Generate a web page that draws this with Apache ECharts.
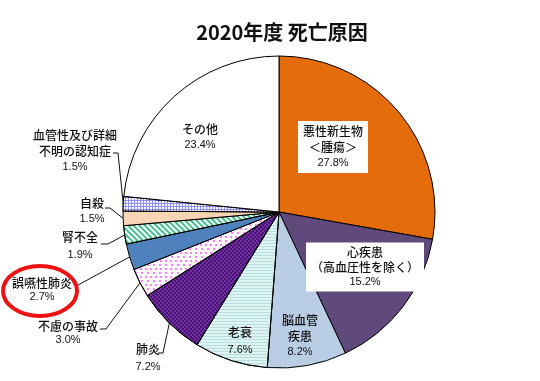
<!DOCTYPE html>
<html><head><meta charset="utf-8">
<script src="https://cdn.jsdelivr.net/npm/echarts@6/dist/echarts.min.js"></script>
<style>html,body{margin:0;padding:0;background:#fff}#c{width:540px;height:381px}</style>
</head><body><div id="c"></div>
<script>
const chartTitle = '2020年度 死亡原因';
const categories = ['悪性新生物\n＜腫瘍＞', '心疾患\n（高血圧性を除く）', '脳血管\n疾患', '老衰', '肺炎', '不慮の事故', '誤嚥性肺炎', '腎不全', '自殺', '血管性及び詳細\n不明の認知症', 'その他'];
const percents = [27.8, 15.2, 8.2, 7.6, 7.2, 3.0, 2.7, 1.9, 1.5, 1.5, 23.4];

// styles (not data)
const colors = ['#E46C0A', '#604A7B', '#B9CDE5', '#E0F4F4', '#7030A0', '#FFFFFF', '#4F81BD', '#FFFFFF', '#FCD5B5', '#8F8FFF', '#FFFFFF'];
const decals = {
  3: {symbol: 'rect', symbolSize: 1, color: '#B4DEDE', dashArrayX: [1, 0], dashArrayY: [1, 2]},
  4: {symbol: 'rect', symbolSize: 1, color: '#4A1275', dashArrayX: [[2, 2], [0, 2, 2, 0]], dashArrayY: [2, 0]},
  5: {symbol: 'rect', symbolSize: 1, color: '#FF80FF', dashArrayX: [[2, 3], [0, 2.5, 2, 0.5]], dashArrayY: [2, 1.5]},
  7: {symbol: 'rect', symbolSize: 1, color: '#45C08C', dashArrayX: [1, 0], dashArrayY: [1.5, 1.5], rotation: Math.PI / 4},
  9: {symbol: 'rect', symbolSize: 1, color: '#FFFFFF', dashArrayX: [2, 1], dashArrayY: [2, 1]}
};
const insideIdx = [0, 1, 2, 3, 10];
const boxedIdx = [0, 1];
const lineHeights = [16, 15, 16, 17, 17, 13, 14, 17, 16, 16, 15];
const anchors = [[333, 147], [365, 267], [300, 336], [240, 341], [148, 358], [68, 333], [42, 290], [80, 246], [92, 211], [75, 151], [200, 137]];
const elbows = {
  4: [[163, 353], [158, 353]],
  5: [[106, 329], [100, 329]],
  6: [[80, 284], [78, 285]],
  7: [[108, 244], [101, 244]],
  8: [[110, 208], [105, 208]],
  9: [[118, 153], [113, 153]]
};

const chart = echarts.init(document.getElementById('c'), null, {renderer: 'canvas'});

const data = categories.map((name, i) => {
  const lh = lineHeights[i];
  const item = {
    name: name,
    value: percents[i],
    itemStyle: {color: colors[i]},
    label: {
      position: insideIdx.includes(i) ? 'inside' : 'outside',
      rich: {
        n: {fontSize: 12, lineHeight: lh, fontFamily: 'Noto Sans CJK JP', fontWeight: 500, color: '#111'},
        p: {fontSize: 11, lineHeight: lh, fontFamily: 'Liberation Sans', color: '#111'}
      }
    }
  };
  if (decals[i]) item.itemStyle.decal = decals[i];
  if (boxedIdx.includes(i)) {
    item.label.backgroundColor = '#FFFFFF';
    item.label.padding = [2, 5];
  }
  return item;
});

chart.setOption({
  animation: false,
  backgroundColor: '#FFFFFF',
  title: {
    text: chartTitle,
    left: 277, top: 17, textAlign: 'center',
    textStyle: {fontSize: 20, fontWeight: 'bold', color: '#111', fontFamily: 'Noto Sans CJK JP'}
  },
  graphic: [{
    type: 'ellipse', z: 100,
    shape: {cx: 40, cy: 291, rx: 37, ry: 25},
    style: {fill: null, stroke: '#EE1111', lineWidth: 4}
  }],
  series: [{
    type: 'pie',
    center: [279, 212],
    radius: 156,
    startAngle: 90,
    clockwise: true,
    avoidLabelOverlap: false,
    silent: true,
    itemStyle: {borderColor: '#000', borderWidth: 1},
    label: {
      show: true,
      position: 'outside',
      align: 'center',
      formatter: p => '{n|' + p.name + '}\n{p|' + percents[p.dataIndex].toFixed(1) + '%}'
    },
    labelLine: {show: true, length: 10, length2: 10, lineStyle: {color: '#111', width: 1}},
    labelLayout: function (p) {
      const a = anchors[p.dataIndex];
      const o = {x: a[0], y: a[1], align: 'center', verticalAlign: 'middle'};
      const e = elbows[p.dataIndex];
      if (e && p.labelLinePoints) o.labelLinePoints = [p.labelLinePoints[0], e[0], e[1]];
      return o;
    },
    data: data
  }]
});
</script>
</body></html>
